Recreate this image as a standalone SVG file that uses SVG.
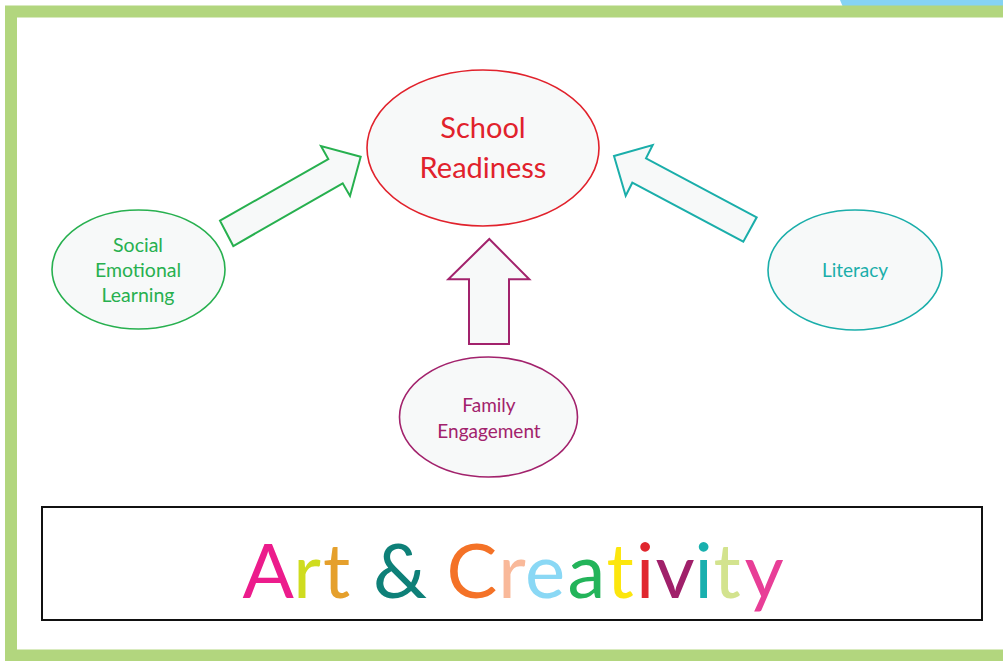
<svg xmlns="http://www.w3.org/2000/svg" width="1003" height="661" viewBox="0 0 1003 661">
  <style>
    .lbl { font-family: Lato, "Liberation Sans", sans-serif; text-anchor: middle; }
    .node { fill: #f7f9f9; stroke-width: 1.6; }
    .arrow { fill: #f7f9f9; stroke-width: 2; stroke-linejoin: miter; }
    .green { stroke: #27b04f; }
    .red { stroke: #e1222c; }
    .teal { stroke: #1aaeaa; }
    .purple { stroke: #a2226c; }
    .title { font-family: Lato, "Liberation Sans", sans-serif; font-size: 76px; text-anchor: middle; }
  </style>

  <rect width="1003" height="661" fill="#ffffff"/>

  <!-- corner tab peeking above the frame -->
  <polygon points="840,0 1003,0 1003,12 845,12" fill="#85d3f3"/>

  <!-- page frame -->
  <rect x="11" y="11.5" width="1000" height="644" fill="#ffffff" stroke="#b2d67e" stroke-width="12"/>

  <!-- connectors -->
  <g id="connectors">
    <polygon class="arrow green" points="220,220.7 328.3,159 321,146 360.7,156.7 350,196 342.7,183.3 233.3,246"/>
    <polygon class="arrow teal" points="614,156 652.7,145 646,158.3 756.7,217.3 743.3,241.7 632.3,182.7 625.7,195.7"/>
    <polygon class="arrow purple" points="489.3,239 529.3,279.3 509,279.3 509,344 469,344 469,279.3 448.3,279.3"/>
  </g>

  <g id="school-readiness">
    <ellipse class="node red" cx="483" cy="148" rx="116" ry="78"/>
    <text class="lbl" x="483" y="138" font-size="29" fill="#e1222c">School</text>
    <text class="lbl" x="483" y="178" font-size="29" fill="#e1222c">Readiness</text>
  </g>

  <g id="social-emotional-learning">
    <ellipse class="node green" cx="138.5" cy="269.5" rx="86.5" ry="59.5"/>
    <text class="lbl" x="138" y="252" font-size="19.5" fill="#27b04f">Social</text>
    <text class="lbl" x="138" y="277" font-size="19.5" fill="#27b04f">Emotional</text>
    <text class="lbl" x="138" y="302" font-size="19.5" fill="#27b04f">Learning</text>
  </g>

  <g id="literacy">
    <ellipse class="node teal" cx="855" cy="270" rx="87" ry="60"/>
    <text class="lbl" x="855" y="277" font-size="19" fill="#1aaeaa">Literacy</text>
  </g>

  <g id="family-engagement">
    <ellipse class="node purple" cx="488.5" cy="417" rx="89" ry="60"/>
    <text class="lbl" x="489" y="412" font-size="19" fill="#a2226c">Family</text>
    <text class="lbl" x="489" y="438" font-size="19" fill="#a2226c">Engagement</text>
  </g>

  <g id="art-creativity">
    <rect x="42" y="507" width="940" height="113" fill="#ffffff" stroke="#111111" stroke-width="2"/>
    <text class="title" y="598">
      <tspan x="268.3" fill="#ec1c8c">A</tspan><tspan x="307" fill="#cfdc1f">r</tspan><tspan x="336.6" fill="#e5a02c">t</tspan><tspan x="400" fill="#0e8078">&amp;</tspan><tspan x="472" fill="#f47227">C</tspan><tspan x="512" fill="#f9b99a">r</tspan><tspan x="545" fill="#8ad8f5">e</tspan><tspan x="586.5" fill="#23b45a">a</tspan><tspan x="620" fill="#fce60d">t</tspan><tspan x="645" fill="#e0262e">i</tspan><tspan x="675" fill="#a0206a">v</tspan><tspan x="703.6" fill="#19b0ae">i</tspan><tspan x="727" fill="#d3e38e">t</tspan><tspan x="764" fill="#e83e97">y</tspan>
    </text>
  </g>
</svg>
